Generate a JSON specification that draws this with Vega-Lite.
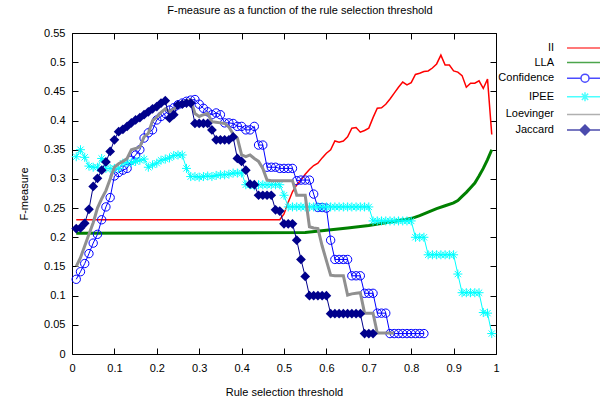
{
"$schema": "https://vega.github.io/schema/vega-lite/v6.json",
"width": 424, "height": 321,
"autosize": {"type": "none"},
"padding": {"left": 72, "top": 33, "right": 104, "bottom": 49},
"title": {"text": "F-measure as a function of the rule selection threshold", "fontSize": 11, "font": "Liberation Sans", "fontWeight": "normal", "anchor": "middle", "dx": 16, "offset": 11, "color": "#000"},
"data": {"values": [
{"s":"II","x":0.01,"y":0.23},{"s":"II","x":0.49,"y":0.23},{"s":"II","x":0.50,"y":0.24},{"s":"II","x":0.51,"y":0.26},{"s":"II","x":0.52,"y":0.278},{"s":"II","x":0.53,"y":0.29},{"s":"II","x":0.54,"y":0.298},{"s":"II","x":0.55,"y":0.308},{"s":"II","x":0.56,"y":0.316},{"s":"II","x":0.57,"y":0.323},{"s":"II","x":0.58,"y":0.327},{"s":"II","x":0.59,"y":0.336},{"s":"II","x":0.60,"y":0.344},{"s":"II","x":0.61,"y":0.35},{"s":"II","x":0.62,"y":0.365},{"s":"II","x":0.63,"y":0.363},{"s":"II","x":0.64,"y":0.365},{"s":"II","x":0.65,"y":0.372},{"s":"II","x":0.66,"y":0.387},{"s":"II","x":0.67,"y":0.388},{"s":"II","x":0.68,"y":0.38},{"s":"II","x":0.69,"y":0.383},{"s":"II","x":0.70,"y":0.387},{"s":"II","x":0.71,"y":0.405},{"s":"II","x":0.72,"y":0.421},{"s":"II","x":0.73,"y":0.422},{"s":"II","x":0.74,"y":0.428},{"s":"II","x":0.75,"y":0.437},{"s":"II","x":0.76,"y":0.447},{"s":"II","x":0.77,"y":0.457},{"s":"II","x":0.78,"y":0.466},{"s":"II","x":0.79,"y":0.461},{"s":"II","x":0.80,"y":0.465},{"s":"II","x":0.81,"y":0.479},{"s":"II","x":0.82,"y":0.481},{"s":"II","x":0.83,"y":0.484},{"s":"II","x":0.84,"y":0.485},{"s":"II","x":0.85,"y":0.49},{"s":"II","x":0.86,"y":0.497},{"s":"II","x":0.87,"y":0.512},{"s":"II","x":0.88,"y":0.495},{"s":"II","x":0.89,"y":0.495},{"s":"II","x":0.90,"y":0.485},{"s":"II","x":0.91,"y":0.483},{"s":"II","x":0.92,"y":0.477},{"s":"II","x":0.93,"y":0.457},{"s":"II","x":0.94,"y":0.464},{"s":"II","x":0.95,"y":0.464},{"s":"II","x":0.96,"y":0.468},{"s":"II","x":0.97,"y":0.455},{"s":"II","x":0.98,"y":0.471},{"s":"II","x":0.99,"y":0.376},
{"s":"LLA","x":0.01,"y":0.207},{"s":"LLA","x":0.55,"y":0.208},{"s":"LLA","x":0.60,"y":0.212},{"s":"LLA","x":0.65,"y":0.216},{"s":"LLA","x":0.70,"y":0.22},{"s":"LLA","x":0.75,"y":0.226},{"s":"LLA","x":0.80,"y":0.232},{"s":"LLA","x":0.82,"y":0.237},{"s":"LLA","x":0.84,"y":0.243},{"s":"LLA","x":0.86,"y":0.249},{"s":"LLA","x":0.88,"y":0.254},{"s":"LLA","x":0.90,"y":0.259},{"s":"LLA","x":0.91,"y":0.263},{"s":"LLA","x":0.92,"y":0.27},{"s":"LLA","x":0.93,"y":0.277},{"s":"LLA","x":0.94,"y":0.285},{"s":"LLA","x":0.95,"y":0.293},{"s":"LLA","x":0.96,"y":0.305},{"s":"LLA","x":0.97,"y":0.318},{"s":"LLA","x":0.98,"y":0.333},{"s":"LLA","x":0.99,"y":0.35},
{"s":"C","x":0.01,"y":0.128},{"s":"C","x":0.02,"y":0.141},{"s":"C","x":0.03,"y":0.155},{"s":"C","x":0.04,"y":0.172},{"s":"C","x":0.05,"y":0.19},{"s":"C","x":0.06,"y":0.205},{"s":"C","x":0.07,"y":0.23},{"s":"C","x":0.08,"y":0.252},{"s":"C","x":0.09,"y":0.268},{"s":"C","x":0.10,"y":0.305},{"s":"C","x":0.11,"y":0.311},{"s":"C","x":0.12,"y":0.315},{"s":"C","x":0.13,"y":0.318},{"s":"C","x":0.14,"y":0.332},{"s":"C","x":0.15,"y":0.341},{"s":"C","x":0.16,"y":0.35},{"s":"C","x":0.17,"y":0.37},{"s":"C","x":0.18,"y":0.379},{"s":"C","x":0.19,"y":0.384},{"s":"C","x":0.20,"y":0.401},{"s":"C","x":0.21,"y":0.407},{"s":"C","x":0.22,"y":0.412},{"s":"C","x":0.23,"y":0.418},{"s":"C","x":0.24,"y":0.422},{"s":"C","x":0.25,"y":0.427},{"s":"C","x":0.26,"y":0.43},{"s":"C","x":0.27,"y":0.433},{"s":"C","x":0.28,"y":0.435},{"s":"C","x":0.29,"y":0.436},{"s":"C","x":0.30,"y":0.428},{"s":"C","x":0.31,"y":0.421},{"s":"C","x":0.32,"y":0.415},{"s":"C","x":0.33,"y":0.41},{"s":"C","x":0.34,"y":0.413},{"s":"C","x":0.35,"y":0.41},{"s":"C","x":0.36,"y":0.396},{"s":"C","x":0.37,"y":0.396},{"s":"C","x":0.38,"y":0.395},{"s":"C","x":0.39,"y":0.39},{"s":"C","x":0.40,"y":0.39},{"s":"C","x":0.41,"y":0.384},{"s":"C","x":0.42,"y":0.384},{"s":"C","x":0.43,"y":0.39},{"s":"C","x":0.44,"y":0.358},{"s":"C","x":0.45,"y":0.358},{"s":"C","x":0.46,"y":0.32},{"s":"C","x":0.47,"y":0.32},{"s":"C","x":0.48,"y":0.32},{"s":"C","x":0.49,"y":0.318},{"s":"C","x":0.50,"y":0.318},{"s":"C","x":0.51,"y":0.318},{"s":"C","x":0.52,"y":0.318},{"s":"C","x":0.53,"y":0.297},{"s":"C","x":0.54,"y":0.298},{"s":"C","x":0.55,"y":0.298},{"s":"C","x":0.56,"y":0.298},{"s":"C","x":0.57,"y":0.274},{"s":"C","x":0.58,"y":0.251},{"s":"C","x":0.59,"y":0.251},{"s":"C","x":0.60,"y":0.25},{"s":"C","x":0.61,"y":0.195},{"s":"C","x":0.62,"y":0.162},{"s":"C","x":0.63,"y":0.162},{"s":"C","x":0.64,"y":0.162},{"s":"C","x":0.65,"y":0.162},{"s":"C","x":0.66,"y":0.134},{"s":"C","x":0.67,"y":0.134},{"s":"C","x":0.68,"y":0.134},{"s":"C","x":0.69,"y":0.104},{"s":"C","x":0.70,"y":0.104},{"s":"C","x":0.71,"y":0.104},{"s":"C","x":0.72,"y":0.07},{"s":"C","x":0.73,"y":0.07},{"s":"C","x":0.74,"y":0.07},{"s":"C","x":0.75,"y":0.035},{"s":"C","x":0.76,"y":0.035},{"s":"C","x":0.77,"y":0.035},{"s":"C","x":0.78,"y":0.035},{"s":"C","x":0.79,"y":0.035},{"s":"C","x":0.80,"y":0.035},{"s":"C","x":0.81,"y":0.035},{"s":"C","x":0.82,"y":0.035},{"s":"C","x":0.83,"y":0.035},
{"s":"I","x":0.01,"y":0.338},{"s":"I","x":0.02,"y":0.35},{"s":"I","x":0.03,"y":0.337},{"s":"I","x":0.04,"y":0.322},{"s":"I","x":0.05,"y":0.32},{"s":"I","x":0.06,"y":0.32},{"s":"I","x":0.07,"y":0.335},{"s":"I","x":0.08,"y":0.318},{"s":"I","x":0.09,"y":0.318},{"s":"I","x":0.10,"y":0.318},{"s":"I","x":0.11,"y":0.318},{"s":"I","x":0.12,"y":0.327},{"s":"I","x":0.13,"y":0.328},{"s":"I","x":0.14,"y":0.328},{"s":"I","x":0.15,"y":0.33},{"s":"I","x":0.16,"y":0.332},{"s":"I","x":0.17,"y":0.334},{"s":"I","x":0.18,"y":0.32},{"s":"I","x":0.19,"y":0.324},{"s":"I","x":0.20,"y":0.327},{"s":"I","x":0.21,"y":0.332},{"s":"I","x":0.22,"y":0.334},{"s":"I","x":0.23,"y":0.336},{"s":"I","x":0.24,"y":0.34},{"s":"I","x":0.25,"y":0.341},{"s":"I","x":0.26,"y":0.341},{"s":"I","x":0.27,"y":0.318},{"s":"I","x":0.28,"y":0.304},{"s":"I","x":0.29,"y":0.304},{"s":"I","x":0.30,"y":0.303},{"s":"I","x":0.31,"y":0.304},{"s":"I","x":0.32,"y":0.305},{"s":"I","x":0.33,"y":0.304},{"s":"I","x":0.34,"y":0.306},{"s":"I","x":0.35,"y":0.307},{"s":"I","x":0.36,"y":0.307},{"s":"I","x":0.37,"y":0.308},{"s":"I","x":0.38,"y":0.31},{"s":"I","x":0.39,"y":0.31},{"s":"I","x":0.40,"y":0.31},{"s":"I","x":0.41,"y":0.29},{"s":"I","x":0.42,"y":0.29},{"s":"I","x":0.43,"y":0.288},{"s":"I","x":0.44,"y":0.29},{"s":"I","x":0.45,"y":0.29},{"s":"I","x":0.46,"y":0.29},{"s":"I","x":0.47,"y":0.29},{"s":"I","x":0.48,"y":0.29},{"s":"I","x":0.49,"y":0.29},{"s":"I","x":0.50,"y":0.272},{"s":"I","x":0.51,"y":0.252},{"s":"I","x":0.52,"y":0.252},{"s":"I","x":0.53,"y":0.252},{"s":"I","x":0.54,"y":0.252},{"s":"I","x":0.55,"y":0.252},{"s":"I","x":0.56,"y":0.252},{"s":"I","x":0.57,"y":0.252},{"s":"I","x":0.58,"y":0.252},{"s":"I","x":0.59,"y":0.252},{"s":"I","x":0.60,"y":0.252},{"s":"I","x":0.61,"y":0.252},{"s":"I","x":0.62,"y":0.252},{"s":"I","x":0.63,"y":0.252},{"s":"I","x":0.64,"y":0.252},{"s":"I","x":0.65,"y":0.252},{"s":"I","x":0.66,"y":0.252},{"s":"I","x":0.67,"y":0.252},{"s":"I","x":0.68,"y":0.252},{"s":"I","x":0.69,"y":0.252},{"s":"I","x":0.70,"y":0.252},{"s":"I","x":0.71,"y":0.228},{"s":"I","x":0.72,"y":0.228},{"s":"I","x":0.73,"y":0.228},{"s":"I","x":0.74,"y":0.228},{"s":"I","x":0.75,"y":0.228},{"s":"I","x":0.76,"y":0.228},{"s":"I","x":0.77,"y":0.228},{"s":"I","x":0.78,"y":0.228},{"s":"I","x":0.79,"y":0.228},{"s":"I","x":0.80,"y":0.228},{"s":"I","x":0.81,"y":0.2},{"s":"I","x":0.82,"y":0.2},{"s":"I","x":0.83,"y":0.2},{"s":"I","x":0.84,"y":0.17},{"s":"I","x":0.85,"y":0.17},{"s":"I","x":0.86,"y":0.17},{"s":"I","x":0.87,"y":0.17},{"s":"I","x":0.88,"y":0.17},{"s":"I","x":0.89,"y":0.17},{"s":"I","x":0.90,"y":0.17},{"s":"I","x":0.91,"y":0.137},{"s":"I","x":0.92,"y":0.105},{"s":"I","x":0.93,"y":0.105},{"s":"I","x":0.94,"y":0.105},{"s":"I","x":0.95,"y":0.105},{"s":"I","x":0.96,"y":0.105},{"s":"I","x":0.97,"y":0.071},{"s":"I","x":0.98,"y":0.07},{"s":"I","x":0.99,"y":0.035},
{"s":"L","x":0.01,"y":0.15},{"s":"L","x":0.02,"y":0.165},{"s":"L","x":0.03,"y":0.185},{"s":"L","x":0.04,"y":0.205},{"s":"L","x":0.05,"y":0.225},{"s":"L","x":0.06,"y":0.25},{"s":"L","x":0.07,"y":0.266},{"s":"L","x":0.08,"y":0.28},{"s":"L","x":0.09,"y":0.3},{"s":"L","x":0.10,"y":0.32},{"s":"L","x":0.11,"y":0.326},{"s":"L","x":0.12,"y":0.33},{"s":"L","x":0.13,"y":0.335},{"s":"L","x":0.14,"y":0.35},{"s":"L","x":0.15,"y":0.352},{"s":"L","x":0.16,"y":0.355},{"s":"L","x":0.17,"y":0.372},{"s":"L","x":0.18,"y":0.378},{"s":"L","x":0.19,"y":0.4},{"s":"L","x":0.20,"y":0.406},{"s":"L","x":0.21,"y":0.414},{"s":"L","x":0.22,"y":0.42},{"s":"L","x":0.23,"y":0.415},{"s":"L","x":0.24,"y":0.42},{"s":"L","x":0.25,"y":0.425},{"s":"L","x":0.26,"y":0.428},{"s":"L","x":0.27,"y":0.432},{"s":"L","x":0.28,"y":0.435},{"s":"L","x":0.29,"y":0.412},{"s":"L","x":0.30,"y":0.407},{"s":"L","x":0.31,"y":0.41},{"s":"L","x":0.32,"y":0.412},{"s":"L","x":0.33,"y":0.398},{"s":"L","x":0.34,"y":0.397},{"s":"L","x":0.35,"y":0.396},{"s":"L","x":0.36,"y":0.395},{"s":"L","x":0.37,"y":0.389},{"s":"L","x":0.38,"y":0.377},{"s":"L","x":0.39,"y":0.37},{"s":"L","x":0.40,"y":0.341},{"s":"L","x":0.41,"y":0.338},{"s":"L","x":0.42,"y":0.341},{"s":"L","x":0.43,"y":0.335},{"s":"L","x":0.44,"y":0.33},{"s":"L","x":0.45,"y":0.318},{"s":"L","x":0.46,"y":0.298},{"s":"L","x":0.47,"y":0.297},{"s":"L","x":0.48,"y":0.297},{"s":"L","x":0.49,"y":0.297},{"s":"L","x":0.50,"y":0.297},{"s":"L","x":0.51,"y":0.297},{"s":"L","x":0.52,"y":0.297},{"s":"L","x":0.53,"y":0.272},{"s":"L","x":0.54,"y":0.272},{"s":"L","x":0.55,"y":0.272},{"s":"L","x":0.56,"y":0.218},{"s":"L","x":0.57,"y":0.216},{"s":"L","x":0.58,"y":0.215},{"s":"L","x":0.59,"y":0.185},{"s":"L","x":0.60,"y":0.16},{"s":"L","x":0.61,"y":0.135},{"s":"L","x":0.62,"y":0.134},{"s":"L","x":0.63,"y":0.134},{"s":"L","x":0.64,"y":0.134},{"s":"L","x":0.65,"y":0.101},{"s":"L","x":0.66,"y":0.103},{"s":"L","x":0.67,"y":0.104},{"s":"L","x":0.68,"y":0.105},{"s":"L","x":0.69,"y":0.07},{"s":"L","x":0.70,"y":0.07},{"s":"L","x":0.71,"y":0.07},{"s":"L","x":0.72,"y":0.036},{"s":"L","x":0.73,"y":0.036},{"s":"L","x":0.74,"y":0.036},{"s":"L","x":0.75,"y":0.036},{"s":"L","x":0.76,"y":0.036},
{"s":"J","x":0.01,"y":0.215},{"s":"J","x":0.02,"y":0.216},{"s":"J","x":0.03,"y":0.224},{"s":"J","x":0.04,"y":0.248},{"s":"J","x":0.05,"y":0.287},{"s":"J","x":0.06,"y":0.301},{"s":"J","x":0.07,"y":0.315},{"s":"J","x":0.08,"y":0.329},{"s":"J","x":0.09,"y":0.347},{"s":"J","x":0.10,"y":0.367},{"s":"J","x":0.11,"y":0.381},{"s":"J","x":0.12,"y":0.385},{"s":"J","x":0.13,"y":0.39},{"s":"J","x":0.14,"y":0.396},{"s":"J","x":0.15,"y":0.401},{"s":"J","x":0.16,"y":0.405},{"s":"J","x":0.17,"y":0.41},{"s":"J","x":0.18,"y":0.415},{"s":"J","x":0.19,"y":0.42},{"s":"J","x":0.20,"y":0.424},{"s":"J","x":0.21,"y":0.43},{"s":"J","x":0.22,"y":0.434},{"s":"J","x":0.23,"y":0.404},{"s":"J","x":0.24,"y":0.41},{"s":"J","x":0.25,"y":0.427},{"s":"J","x":0.26,"y":0.428},{"s":"J","x":0.27,"y":0.43},{"s":"J","x":0.28,"y":0.43},{"s":"J","x":0.29,"y":0.395},{"s":"J","x":0.30,"y":0.395},{"s":"J","x":0.31,"y":0.395},{"s":"J","x":0.32,"y":0.395},{"s":"J","x":0.33,"y":0.384},{"s":"J","x":0.34,"y":0.367},{"s":"J","x":0.35,"y":0.367},{"s":"J","x":0.36,"y":0.367},{"s":"J","x":0.37,"y":0.367},{"s":"J","x":0.38,"y":0.372},{"s":"J","x":0.39,"y":0.335},{"s":"J","x":0.40,"y":0.33},{"s":"J","x":0.41,"y":0.315},{"s":"J","x":0.42,"y":0.291},{"s":"J","x":0.43,"y":0.29},{"s":"J","x":0.44,"y":0.272},{"s":"J","x":0.45,"y":0.272},{"s":"J","x":0.46,"y":0.272},{"s":"J","x":0.47,"y":0.272},{"s":"J","x":0.48,"y":0.247},{"s":"J","x":0.49,"y":0.245},{"s":"J","x":0.50,"y":0.223},{"s":"J","x":0.51,"y":0.223},{"s":"J","x":0.52,"y":0.223},{"s":"J","x":0.53,"y":0.195},{"s":"J","x":0.54,"y":0.162},{"s":"J","x":0.55,"y":0.133},{"s":"J","x":0.56,"y":0.1},{"s":"J","x":0.57,"y":0.1},{"s":"J","x":0.58,"y":0.1},{"s":"J","x":0.59,"y":0.1},{"s":"J","x":0.60,"y":0.1},{"s":"J","x":0.61,"y":0.069},{"s":"J","x":0.62,"y":0.069},{"s":"J","x":0.63,"y":0.069},{"s":"J","x":0.64,"y":0.069},{"s":"J","x":0.65,"y":0.069},{"s":"J","x":0.66,"y":0.069},{"s":"J","x":0.67,"y":0.069},{"s":"J","x":0.68,"y":0.069},{"s":"J","x":0.69,"y":0.035},{"s":"J","x":0.70,"y":0.035},{"s":"J","x":0.71,"y":0.035}
]},
"encoding": {
  "x": {"field": "x", "type": "quantitative", "scale": {"domain": [0, 1], "nice": false, "zero": false}, "axis": null},
  "y": {"field": "y", "type": "quantitative", "scale": {"domain": [0, 0.55], "nice": false}, "axis": null}
},
"layer": [
  {
    "transform": [{"filter": "datum.s === 'none'"}],
    "mark": {"type": "point", "filled": false},
    "encoding": {
      "x": {"field": "x", "type": "quantitative", "scale": {"domain": [0, 1], "nice": false, "zero": false},
        "axis": {"orient": "bottom", "title": "Rule selection threshold", "values": [0,0.1,0.2,0.3,0.4,0.5,0.6,0.7,0.8,0.9,1], "format": "~f", "labelPadding": 14, "titlePadding": 13, "labelFlush": false, "labelAngle": 0}},
      "y": {"field": "y", "type": "quantitative", "scale": {"domain": [0, 0.55], "nice": false},
        "axis": {"orient": "left", "title": "F-measure", "values": [0,0.05,0.1,0.15,0.2,0.25,0.3,0.35,0.4,0.45,0.5,0.55], "format": "~f", "labelPadding": 13, "titlePadding": 14, "labelFlush": false}},
      "color": {"field": "s", "type": "nominal",
        "scale": {"domain": ["II","LLA","Confidence","IPEE","Loevinger","Jaccard"], "range": ["#ff0000","#008000","#0000ff","#00ffff","#909090","#00008b"]},
        "legend": {"orient": "none", "legendX": 506, "legendY": 8, "title": null,
          "encode": {"symbols": {"update": {"fill": {"signal": "datum.value === 'Jaccard' ? '#00008b' : 'transparent'"}, "strokeWidth": {"signal": "(datum.value === 'LLA' || datum.value === 'Loevinger') ? 3 : (datum.value === 'II' ? 1.5 : 1)"}, "opacity": {"value": 1}}}}}},
      "shape": {"field": "s", "type": "nominal",
        "scale": {"domain": ["II","LLA","Confidence","IPEE","Loevinger","Jaccard"], "range": ["M-3,0H3","M-3,0H3","M-3,0H-0.667M0.667,0H3M0.667,0A0.667,0.667,0,1,1,-0.667,0A0.667,0.667,0,1,1,0.667,0","M-3,0H3M0,-0.75V0.75M-0.53,-0.53L0.53,0.53M-0.53,0.53L0.53,-0.53","M-3,0H3","M-3,0H3M0,-0.83L0.83,0L0,0.83L-0.83,0ZM0,-0.62L0.62,0L0,0.62L-0.62,0ZM0,-0.42L0.42,0L0,0.42L-0.42,0ZM0,-0.21L0.21,0L0,0.21L-0.21,0Z"]},
        "legend": {"orient": "none", "legendX": 506, "legendY": 8, "title": null,
          "encode": {"symbols": {"update": {"fill": {"signal": "datum.value === 'Jaccard' ? '#00008b' : 'transparent'"}, "strokeWidth": {"signal": "(datum.value === 'LLA' || datum.value === 'Loevinger') ? 3 : (datum.value === 'II' ? 1.5 : 1)"}, "opacity": {"value": 1}}}}}}
    }
  },
  {
    "transform": [{"filter": "datum.s === 'II'"}],
    "mark": {"type": "line", "color": "#ff0000", "strokeWidth": 1.5},
    "encoding": {
      "x": {"field": "x", "type": "quantitative", "scale": {"domain": [0, 1], "nice": false, "zero": false},
        "axis": {"orient": "top", "title": null, "labels": false, "values": [0,0.1,0.2,0.3,0.4,0.5,0.6,0.7,0.8,0.9,1]}},
      "y": {"field": "y", "type": "quantitative", "scale": {"domain": [0, 0.55], "nice": false},
        "axis": {"orient": "right", "title": null, "labels": false, "values": [0,0.05,0.1,0.15,0.2,0.25,0.3,0.35,0.4,0.45,0.5,0.55]}}
    }
  },
  {"transform": [{"filter": "datum.s === 'LLA'"}], "mark": {"type": "line", "color": "#008000", "strokeWidth": 3}},
  {"transform": [{"filter": "datum.s === 'C'"}], "mark": {"type": "line", "color": "#0000ff", "strokeWidth": 1}},
  {"transform": [{"filter": "datum.s === 'C'"}], "mark": {"type": "point", "shape": "circle", "filled": false, "size": 70, "strokeWidth": 1, "color": "#0000ff", "opacity": 1}},
  {"transform": [{"filter": "datum.s === 'I'"}], "mark": {"type": "line", "color": "#00ffff", "strokeWidth": 1}},
  {"transform": [{"filter": "datum.s === 'I'"}], "mark": {"type": "point", "shape": "M-1,0H1M0,-1V1M-0.7,-0.7L0.7,0.7M-0.7,0.7L0.7,-0.7", "filled": false, "size": 81, "strokeWidth": 1, "color": "#00ffff", "opacity": 1}},
  {"transform": [{"filter": "datum.s === 'L'"}], "mark": {"type": "line", "color": "#909090", "strokeWidth": 3}},
  {"transform": [{"filter": "datum.s === 'J'"}], "mark": {"type": "line", "color": "#00008b", "strokeWidth": 1}},
  {"transform": [{"filter": "datum.s === 'J'"}], "mark": {"type": "point", "shape": "diamond", "filled": true, "size": 95, "color": "#00008b", "opacity": 1}}
],
"resolve": {"axis": {"x": "independent", "y": "independent"}},
"config": {
  "view": {"stroke": "#000", "strokeWidth": 1},
  "font": "Liberation Sans",
  "axis": {"labelFont": "Liberation Sans", "labelFontSize": 11, "labelColor": "#000", "tickColor": "#000", "tickWidth": 1, "tickSize": -6, "titleFont": "Liberation Sans", "titleFontSize": 11, "titleFontWeight": "normal", "titleColor": "#000", "grid": false, "domain": false, "labelOverlap": false},
  "legend": {"labelFont": "Liberation Sans", "labelFontSize": 11, "labelColor": "#000", "symbolSize": 144, "symbolOffset": 0, "labelOffset": -38, "labelAlign": "right", "rowPadding": 2.6, "padding": 0, "offset": 0}
}
}
